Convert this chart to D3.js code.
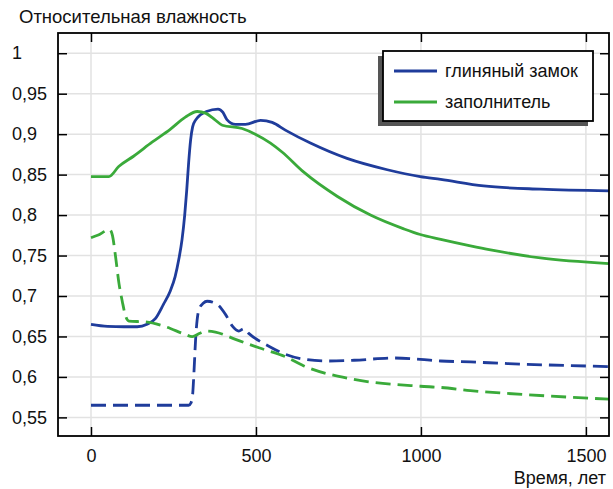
<!DOCTYPE html>
<html>
<head>
<meta charset="utf-8">
<script src="https://cdn.jsdelivr.net/npm/d3@7"></script>
<style>
  body { margin: 0; background: #fff; }
  svg { display: block; font-family: "Liberation Sans", Arial, sans-serif; }
</style>
</head>
<body>
<svg width="613" height="489"></svg>
<script>
// data: [years, relative humidity]
const clayLockSolid = [[0,0.665],[50,0.6625],[100,0.662],[140,0.662],[170,0.665],[195,0.672],[220,0.69],[240,0.706],[255,0.724],[266,0.745],[276,0.77],[284,0.8],[290,0.83],[296,0.865],[302,0.893],[308,0.909],[318,0.918],[332,0.924],[350,0.928],[385,0.931],[400,0.927],[412,0.918],[438,0.912],[468,0.912],[514,0.917],[549,0.9145],[589,0.905],[665,0.889],[776,0.870],[898,0.856],[998,0.8475],[1060,0.844],[1190,0.836],[1362,0.832],[1570,0.830]];
const fillerSolid = [[0,0.8475],[54,0.8475],[84,0.860],[130,0.873],[185,0.890],[240,0.906],[286,0.921],[322,0.928],[347,0.926],[375,0.918],[398,0.911],[458,0.907],[498,0.900],[544,0.889],[579,0.878],[645,0.853],[747,0.823],[847,0.800],[948,0.783],[998,0.776],[1060,0.770],[1150,0.762],[1211,0.757],[1362,0.747],[1570,0.740]];
const clayLockDashed = [[0,0.565],[296,0.565],[303,0.568],[308,0.578],[312,0.605],[317,0.646],[327,0.683],[340,0.691],[352,0.6935],[383,0.6895],[408,0.677],[428,0.663],[448,0.6567],[463,0.6596],[478,0.6538],[539,0.638],[589,0.628],[645,0.622],[716,0.6197],[797,0.6206],[918,0.6234],[998,0.6218],[1060,0.6197],[1150,0.6185],[1262,0.6165],[1570,0.6128]];
const fillerDashed = [[0,0.772],[20,0.775],[57,0.782],[65,0.775],[74,0.75],[85,0.715],[95,0.693],[105,0.675],[115,0.669],[165,0.668],[226,0.662],[286,0.6525],[307,0.6497],[330,0.654],[350,0.6567],[377,0.6555],[438,0.6464],[509,0.636],[589,0.625],[645,0.6136],[797,0.597],[998,0.5885],[1060,0.587],[1150,0.583],[1262,0.5796],[1570,0.5725]];

const legendNames = ["глиняный замок", "заполнитель"];
const xTicks = [0, 500, 1000, 1500];
const yTicks = [0.55, 0.6, 0.65, 0.7, 0.75, 0.8, 0.85, 0.9, 0.95, 1];

const blue = "#1f3c9b", green = "#3aaa3a";

const series = [
    {values: clayLockSolid, color: blue, dash: null},
    {values: fillerSolid, color: green, dash: null},
    {values: clayLockDashed, color: blue, dash: "15,7"},
    {values: fillerDashed, color: green, dash: "15,7"}
];

const plotLeft = 58, plotRight = 609, plotTop = 33, plotBottom = 436;

const svg = d3.select("svg");

const x = d3.scaleLinear().domain([-100, 1570]).range([plotLeft, plotRight]);
const y = d3.scaleLinear().domain([0.527, 1.025]).range([plotBottom, plotTop]);

const fmt = d => String(+d.toFixed(2)).replace(".", ",");

// grid
svg.append("g")
   .selectAll("line")
   .data(yTicks)
   .enter().append("line")
     .attr("x1", plotLeft).attr("x2", plotRight)
     .attr("y1", d => y(d)).attr("y2", d => y(d))
     .attr("stroke", "#e2e2e2").attr("stroke-width", 1.5);
svg.append("g")
   .selectAll("line")
   .data(xTicks)
   .enter().append("line")
     .attr("x1", d => x(d)).attr("x2", d => x(d))
     .attr("y1", plotTop).attr("y2", plotBottom)
     .attr("stroke", "#e2e2e2").attr("stroke-width", 1.5);

// lines
const line = d3.line()
               .x(d => x(d[0]))
               .y(d => y(d[1]))
               .curve(d3.curveMonotoneX);

svg.selectAll(".series")
   .data(series)
   .enter()
   .append("path")
     .attr("fill", "none")
     .attr("stroke", d => d.color)
     .attr("stroke-width", 2.8)
     .attr("stroke-dasharray", d => d.dash)
     .attr("d", d => line(d.values));

// axes, ticks pointing inward
const xBottom = svg.append("g")
   .attr("transform", `translate(0,${plotBottom})`)
   .call(d3.axisBottom(x).tickValues(xTicks).tickSize(-9).tickPadding(13).tickFormat(d3.format("d")));
const xTop = svg.append("g")
   .attr("transform", `translate(0,${plotTop})`)
   .call(d3.axisTop(x).tickValues(xTicks).tickSize(-9).tickFormat(""));
const yLeft = svg.append("g")
   .attr("transform", `translate(${plotLeft},0)`)
   .call(d3.axisLeft(y).tickValues(yTicks).tickSize(-9).tickFormat(fmt));
const yRight = svg.append("g")
   .attr("transform", `translate(${plotRight},0)`)
   .call(d3.axisRight(y).tickValues(yTicks).tickSize(-9).tickFormat(""));

[xBottom, xTop, yLeft, yRight].forEach(g => {
    g.select(".domain").remove();
    g.selectAll(".tick line").attr("stroke", "#000").attr("stroke-width", 1.5);
});
xBottom.selectAll("text").attr("font-size", 18).attr("fill", "#111");
yLeft.selectAll("text")
     .attr("font-size", 18).attr("fill", "#111")
     .attr("text-anchor", "start")
     .attr("x", 12 - plotLeft);

// frame
svg.append("rect")
   .attr("x", plotLeft).attr("y", plotTop)
   .attr("width", plotRight - plotLeft).attr("height", plotBottom - plotTop)
   .attr("fill", "none").attr("stroke", "#000").attr("stroke-width", 1.8);

// titles
svg.append("text")
   .attr("x", 19).attr("y", 23)
   .attr("font-size", 18.5).attr("fill", "#111")
   .text("Относительная влажность");
svg.append("text")
   .attr("x", 606).attr("y", 484)
   .attr("text-anchor", "end")
   .attr("font-size", 18).attr("fill", "#111")
   .text("Время, лет");

// legend
const lg = svg.append("g");
lg.append("rect")
  .attr("x", 378).attr("y", 56).attr("width", 210).attr("height", 70)
  .attr("fill", "#555");
lg.append("rect")
  .attr("x", 383).attr("y", 51).attr("width", 210).attr("height", 70)
  .attr("fill", "#fff").attr("stroke", "#000").attr("stroke-width", 1.8);
const items = lg.selectAll(".item")
  .data(legendNames)
  .enter().append("g")
    .attr("transform", (d, i) => `translate(0,${71 + i * 31})`);
items.append("line")
  .attr("x1", 394).attr("x2", 437)
  .attr("stroke", (d, i) => series[i].color)
  .attr("stroke-width", 2.8);
items.append("text")
  .attr("x", 445).attr("y", 6)
  .attr("font-size", 18).attr("fill", "#111")
  .text(d => d);
</script>
</body>
</html>
